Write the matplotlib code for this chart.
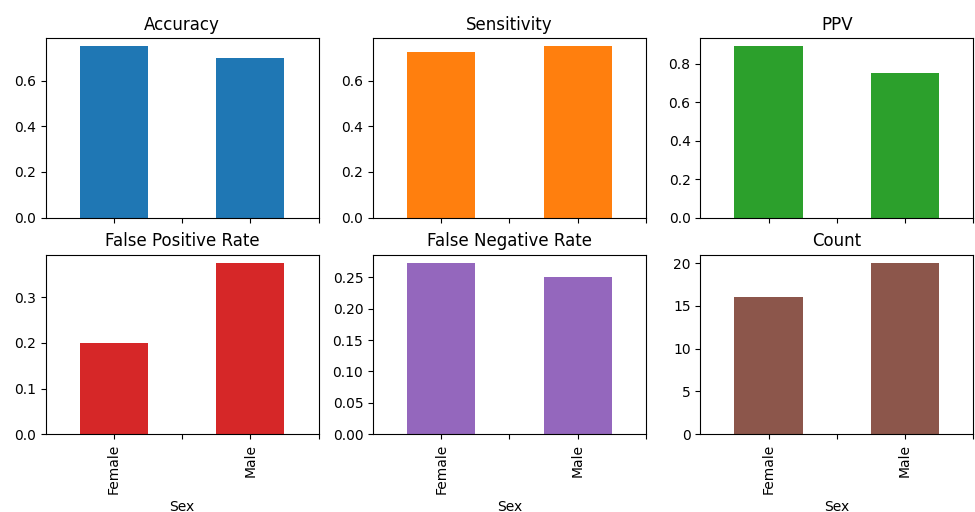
import matplotlib
matplotlib.use("Agg")
import matplotlib.pyplot as plt

# Data
groups = ["Female", "Male"]
accuracy = [0.75, 0.70]
sensitivity = [0.7273, 0.75]
ppv = [0.8889, 0.75]
false_positive_rate = [0.20, 0.375]
false_negative_rate = [0.2727, 0.25]
count = [16, 20]

titles = ["Accuracy", "Sensitivity", "PPV",
          "False Positive Rate", "False Negative Rate", "Count"]
series = [accuracy, sensitivity, ppv,
          false_positive_rate, false_negative_rate, count]
colors = ["C0", "C1", "C2", "C3", "C4", "C5"]


def main():
    fig, axes = plt.subplots(2, 3, figsize=(9.75, 5.12), dpi=100, sharex=True)
    fig.subplots_adjust(left=0.047, right=0.998, top=0.926, bottom=0.152,
                        wspace=0.2, hspace=0.206)

    pos = list(range(len(groups)))
    for ax, title, vals, col in zip(axes.flat, titles, series, colors):
        ax.bar(pos, vals, width=0.5, color=col)
        ax.set_title(title)

    ax0 = axes[0, 0]
    ax0.set_xlim(-0.5, len(groups) - 0.5)
    # extra ticks between and after the bars, no label on them
    ax0.set_xticks([0, 0.5, 1, 1.5])

    for ax in axes[1]:
        ax.set_xticklabels(["Female", "", "Male", ""], rotation=90)
        ax.set_xlabel("Sex")

    fig.savefig("out.png", dpi=100)


if __name__ == "__main__":
    main()
